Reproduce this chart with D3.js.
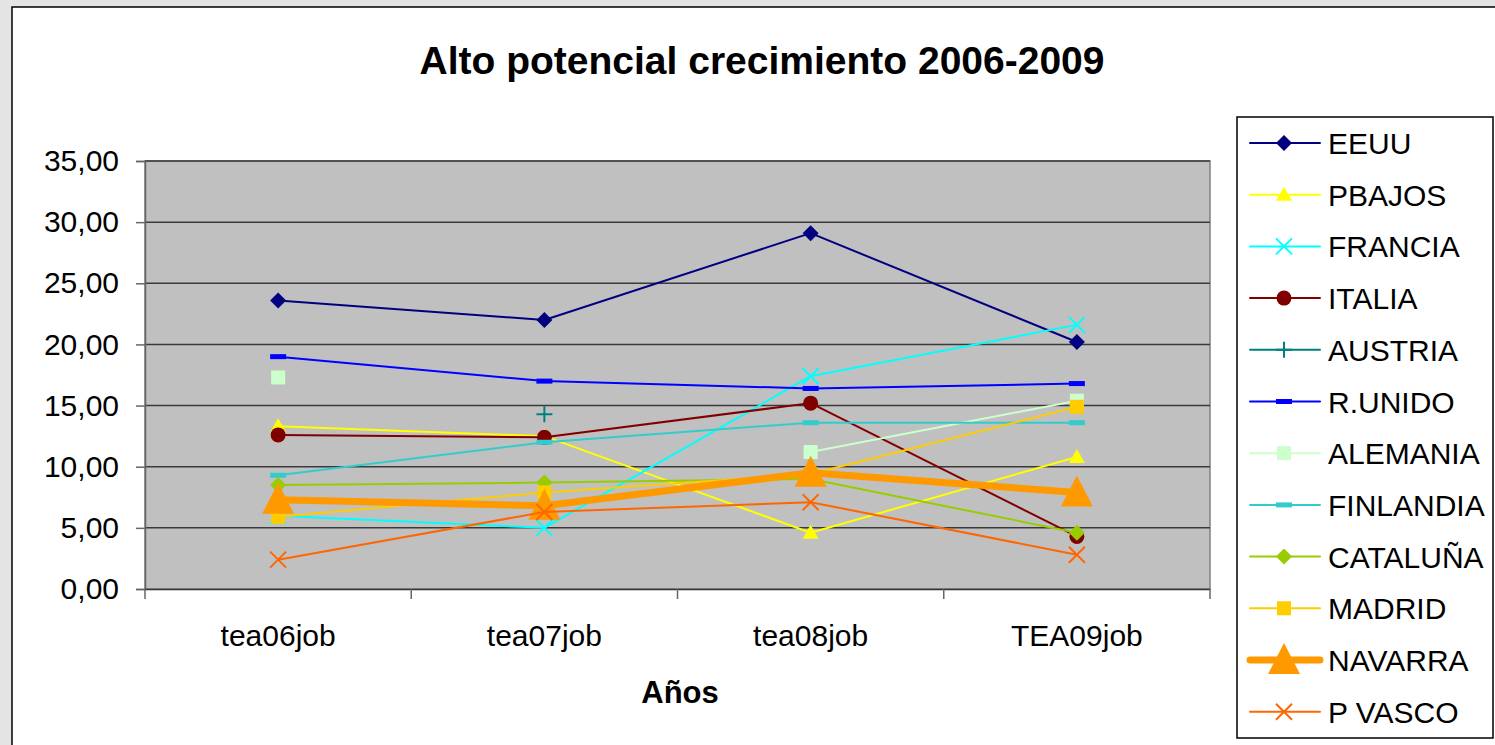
<!DOCTYPE html>
<html>
<head>
<meta charset="utf-8">
<script src="https://cdn.jsdelivr.net/npm/d3@7"></script>
<style>
  body { margin: 0; background: #e4e4e4; }
  svg { display: block; font-family: "Liberation Sans", Arial, sans-serif; }
</style>
</head>
<body>
<svg id="chart" width="1495" height="745"></svg>
<script>
// categories and series
var categories = ['tea06job', 'tea07job', 'tea08job', 'TEA09job'];
var yTicks = [0, 5, 10, 15, 20, 25, 30, 35];

var eeuu      = [23.6, 22.0, 29.1, 20.2];
var pbajos    = [13.3, 12.5, 4.6, 10.8];
var francia   = [6.0, 5.0, 17.4, 21.6];
var italia    = [12.6, 12.4, 15.2, 4.3];
var austria   = [null, 14.3, null, null];
var runido    = [19.0, 17.0, 16.4, 16.8];
var alemania  = [17.3, null, 11.2, 15.4];
var finlandia = [9.3, 12.0, 13.6, 13.6];
var cataluna  = [8.5, 8.7, 9.0, 4.6];
var madrid    = [5.9, 7.9, 9.4, 14.9];
var navarra   = [7.3, 6.8, 9.5, 7.9];
var pvasco    = [2.4, 6.3, 7.1, 2.8];

var series = [
  { name: 'EEUU', values: eeuu, color: '#000080', mark: 'diamond', w: 2 },
  { name: 'PBAJOS', values: pbajos, color: '#FFFF00', mark: 'triangle', w: 2 },
  { name: 'FRANCIA', values: francia, color: '#00FFFF', mark: 'x', w: 2 },
  { name: 'ITALIA', values: italia, color: '#800000', mark: 'circle', w: 2 },
  { name: 'AUSTRIA', values: austria, color: '#008080', mark: 'plus', w: 2 },
  { name: 'R.UNIDO', values: runido, color: '#0000FF', mark: 'dash', w: 2 },
  { name: 'ALEMANIA', values: alemania, color: '#CCFFCC', mark: 'square', w: 2 },
  { name: 'FINLANDIA', values: finlandia, color: '#33CCCC', mark: 'dash', w: 2 },
  { name: 'CATALUÑA', values: cataluna, color: '#99CC00', mark: 'diamond', w: 2 },
  { name: 'MADRID', values: madrid, color: '#FFCC00', mark: 'square', w: 2 },
  { name: 'NAVARRA', values: navarra, color: '#FF9900', mark: 'bigtriangle', w: 7 },
  { name: 'P VASCO', values: pvasco, color: '#FF6600', mark: 'x', w: 2 }
];

var svg = d3.select('#chart');

// chart area (white, bordered)
svg.append('rect').attr('x', 12).attr('y', 7).attr('width', 1500).attr('height', 760)
  .attr('fill', '#fff').attr('stroke', '#000').attr('stroke-width', 1.5);

var plot = { left: 145, right: 1210, top: 161, bottom: 589 };

var x = d3.scaleBand().domain(categories).range([plot.left, plot.right]);
var y = d3.scaleLinear().domain([0, 35]).range([plot.bottom, plot.top]);

svg.append('rect').attr('x', plot.left).attr('y', plot.top)
  .attr('width', plot.right - plot.left).attr('height', plot.bottom - plot.top)
  .attr('fill', '#C0C0C0').attr('stroke', '#808080').attr('stroke-width', 1.5);

// gridlines
svg.append('g').selectAll('line').data(yTicks.filter(d => d > 0)).enter()
  .append('line')
  .attr('x1', plot.left).attr('x2', plot.right)
  .attr('y1', d => y(d)).attr('y2', d => y(d))
  .attr('stroke', '#3a3a3a').attr('stroke-width', 1.5);

// y axis
var yAxis = svg.append('g').attr('transform', 'translate(' + plot.left + ',0)')
  .call(d3.axisLeft(y).tickValues(yTicks).tickSize(9).tickPadding(17)
    .tickFormat(d => d3.format('.2f')(d).replace('.', ',')));
yAxis.select('.domain').attr('stroke', '#666').attr('stroke-width', 1.5);
yAxis.selectAll('.tick line').attr('stroke', '#666').attr('stroke-width', 1.5);
yAxis.selectAll('text').attr('font-size', 30).attr('fill', '#000')
  .attr('font-family', '"Liberation Sans", Arial, sans-serif');

// x axis
var xAxis = svg.append('g').attr('transform', 'translate(0,' + plot.bottom + ')')
  .call(d3.axisBottom(x).tickSize(0).tickPadding(36));
xAxis.select('.domain').attr('stroke', '#333').attr('stroke-width', 1.5);
xAxis.selectAll('text').attr('font-size', 30).attr('fill', '#000')
  .attr('font-family', '"Liberation Sans", Arial, sans-serif');
// tick marks between categories
var bounds = categories.map(c => x(c)).concat([plot.right]);
svg.append('g').selectAll('line').data(bounds).enter().append('line')
  .attr('x1', d => d).attr('x2', d => d)
  .attr('y1', plot.bottom).attr('y2', plot.bottom + 10)
  .attr('stroke', '#666').attr('stroke-width', 1.5);

// titles
svg.append('text').attr('x', 762).attr('y', 74).attr('text-anchor', 'middle')
  .attr('font-size', 39).attr('font-weight', 'bold').text('Alto potencial crecimiento 2006-2009');
svg.append('text').attr('x', 680).attr('y', 703).attr('text-anchor', 'middle')
  .attr('font-size', 31).attr('font-weight', 'bold').text('Años');

function cx(i) { return x(categories[i]) + x.bandwidth() / 2; }

function drawMarker(g, kind, px, py, color) {
  if (kind === 'diamond') {
    g.append('path').attr('d', 'M' + px + ',' + (py - 8) + 'l8,8l-8,8l-8,-8z').attr('fill', color);
  } else if (kind === 'triangle') {
    g.append('path').attr('d', 'M' + px + ',' + (py - 8) + 'l8,14h-16z').attr('fill', color);
  } else if (kind === 'bigtriangle') {
    g.append('path').attr('d', 'M' + px + ',' + (py - 17) + 'l16,31h-32z').attr('fill', color);
  } else if (kind === 'x') {
    g.append('path').attr('d', 'M' + (px - 8) + ',' + (py - 8) + 'l16,16M' + (px + 8) + ',' + (py - 8) + 'l-16,16')
      .attr('stroke', color).attr('stroke-width', 2);
  } else if (kind === 'plus') {
    g.append('path').attr('d', 'M' + (px - 8) + ',' + py + 'h16M' + px + ',' + (py - 8) + 'v16')
      .attr('stroke', color).attr('stroke-width', 2);
  } else if (kind === 'circle') {
    g.append('circle').attr('cx', px).attr('cy', py).attr('r', 7.5).attr('fill', color);
  } else if (kind === 'square') {
    g.append('rect').attr('x', px - 7).attr('y', py - 7).attr('width', 14).attr('height', 14).attr('fill', color);
  } else if (kind === 'dash') {
    g.append('rect').attr('x', px - 8).attr('y', py - 2.5).attr('width', 16).attr('height', 5).attr('fill', color);
  }
}

var line = d3.line()
  .defined(d => d.v !== null)
  .x(d => cx(d.i))
  .y(d => y(d.v));

series.forEach(function(s) {
  var g = svg.append('g');
  var pts = s.values.map((v, i) => ({ v: v, i: i }));
  g.append('path').datum(pts).attr('d', line)
    .attr('fill', 'none').attr('stroke', s.color).attr('stroke-width', s.w)
    .attr('stroke-linejoin', 'round').attr('stroke-linecap', 'round');
  pts.filter(d => d.v !== null).forEach(function(d) {
    drawMarker(g, s.mark, cx(d.i), y(d.v), s.color);
  });
});

// legend
svg.append('rect').attr('x', 1237).attr('y', 117).attr('width', 256).attr('height', 621)
  .attr('fill', '#fff').attr('stroke', '#000').attr('stroke-width', 1.5);
var leg = svg.append('g').selectAll('g').data(series).enter().append('g')
  .attr('transform', (d, i) => 'translate(0,' + (143 + i * 51.7) + ')');
leg.append('line').attr('x1', 1250).attr('x2', 1320).attr('y1', 0).attr('y2', 0)
  .attr('stroke', d => d.color).attr('stroke-width', d => d.w).attr('stroke-linecap', 'round');
leg.each(function(d) { drawMarker(d3.select(this), d.mark, 1284, 0, d.color); });
leg.append('text').attr('x', 1328).attr('y', 11).attr('font-size', 30).text(d => d.name);
</script>
</body>
</html>
